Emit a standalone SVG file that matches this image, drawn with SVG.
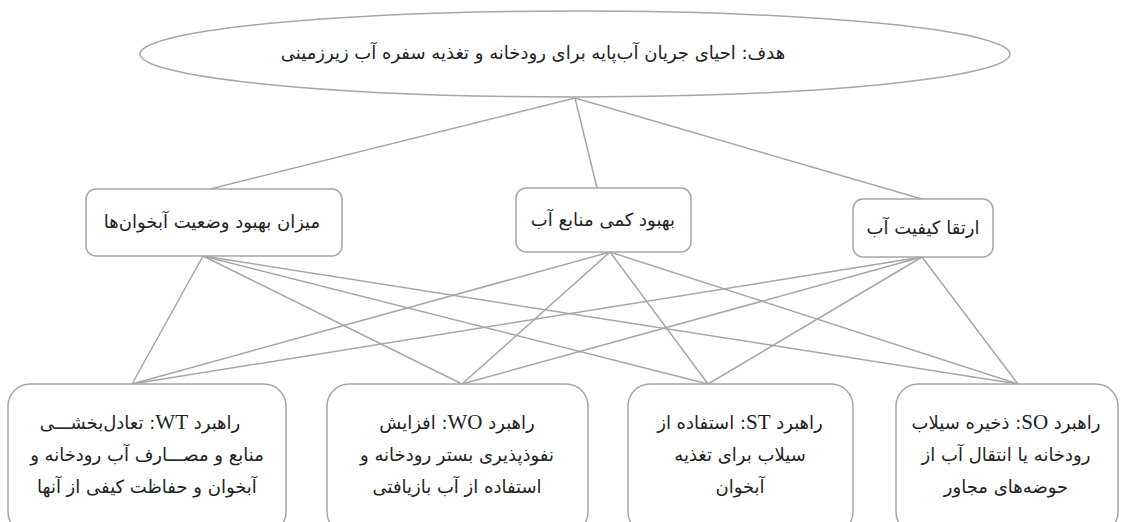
<svg xmlns="http://www.w3.org/2000/svg" width="1121" height="522" viewBox="0 0 1121 522">
<style>
.shape{fill:#ffffff;stroke:#a6a6a6;stroke-width:1.5}
.edge{stroke:#a6a6a6;stroke-width:1.5;fill:none}
.t{font-family:"DejaVu Sans",sans-serif;font-size:18px;fill:#222;text-anchor:middle;direction:rtl;unicode-bidi:embed}
.b{font-size:18px}
.lat{font-family:"Liberation Serif",serif;font-size:21px}
</style>
<rect width="1121" height="522" fill="#ffffff"/>
<g id="connectors">
<line class="edge" x1="575" y1="98" x2="210" y2="189"/>
<line class="edge" x1="575" y1="98" x2="597" y2="188"/>
<line class="edge" x1="575" y1="98" x2="922" y2="199"/>
<line class="edge" x1="203" y1="256" x2="132" y2="384"/>
<line class="edge" x1="203" y1="256" x2="462" y2="384"/>
<line class="edge" x1="203" y1="256" x2="708" y2="384"/>
<line class="edge" x1="203" y1="256" x2="1018" y2="384"/>
<line class="edge" x1="610" y1="252" x2="132" y2="384"/>
<line class="edge" x1="610" y1="252" x2="462" y2="384"/>
<line class="edge" x1="610" y1="252" x2="708" y2="384"/>
<line class="edge" x1="610" y1="252" x2="1018" y2="384"/>
<line class="edge" x1="922" y1="257" x2="132" y2="384"/>
<line class="edge" x1="922" y1="257" x2="462" y2="384"/>
<line class="edge" x1="922" y1="257" x2="708" y2="384"/>
<line class="edge" x1="922" y1="257" x2="1018" y2="384"/>
</g>
<g id="goal">
<ellipse class="shape" cx="575" cy="54" rx="435" ry="43"/>
<text class="t" x="533" y="59" font-size="18">هدف: احیای جریان آب‌پایه برای رودخانه و تغذیه سفره آب زیرزمینی</text>
</g>
<g id="c1">
<rect class="shape" x="86" y="189" width="256" height="67" rx="10"/>
<text class="t" x="212" y="228">میزان بهبود وضعیت آبخوان‌ها</text>
</g>
<g id="c2">
<rect class="shape" x="516" y="188" width="175" height="64" rx="10"/>
<text class="t" x="603" y="226">بهبود کمی منابع آب</text>
</g>
<g id="c3">
<rect class="shape" x="853" y="199" width="140" height="58" rx="10"/>
<text class="t" x="923" y="234">ارتقا کیفیت آب</text>
</g>
<g id="wt">
<rect class="shape" x="8" y="384" width="278" height="150" rx="22"/>
<text class="t b" x="140" y="429">راهبرد <tspan class="lat">WT</tspan>: تعادل‌بخشـــی</text>
<text class="t b" x="147" y="461">منابع و مصـــارف آب رودخانه و</text>
<text class="t b" x="147" y="493">آبخوان و حفاظت کیفی از آنها</text>
</g>
<g id="wo">
<rect class="shape" x="327" y="384" width="261" height="150" rx="22"/>
<text class="t b" x="457" y="429">راهبرد <tspan class="lat">WO</tspan>: افزایش</text>
<text class="t b" x="457" y="461">نفوذپذیری بستر رودخانه و</text>
<text class="t b" x="457" y="493">استفاده از آب بازیافتی</text>
</g>
<g id="st">
<rect class="shape" x="628" y="384" width="225" height="150" rx="22"/>
<text class="t b" x="740" y="429">راهبرد <tspan class="lat">ST</tspan>: استفاده از</text>
<text class="t b" x="740" y="461">سیلاب برای تغذیه</text>
<text class="t b" x="740" y="493">آبخوان</text>
</g>
<g id="so">
<rect class="shape" x="896" y="384" width="222" height="150" rx="22"/>
<text class="t b" x="1006" y="429">راهبرد <tspan class="lat">SO</tspan>: ذخیره سیلاب</text>
<text class="t b" x="1006" y="461">رودخانه یا انتقال آب از</text>
<text class="t b" x="1006" y="493">حوضه‌های مجاور</text>
</g>
</svg>
